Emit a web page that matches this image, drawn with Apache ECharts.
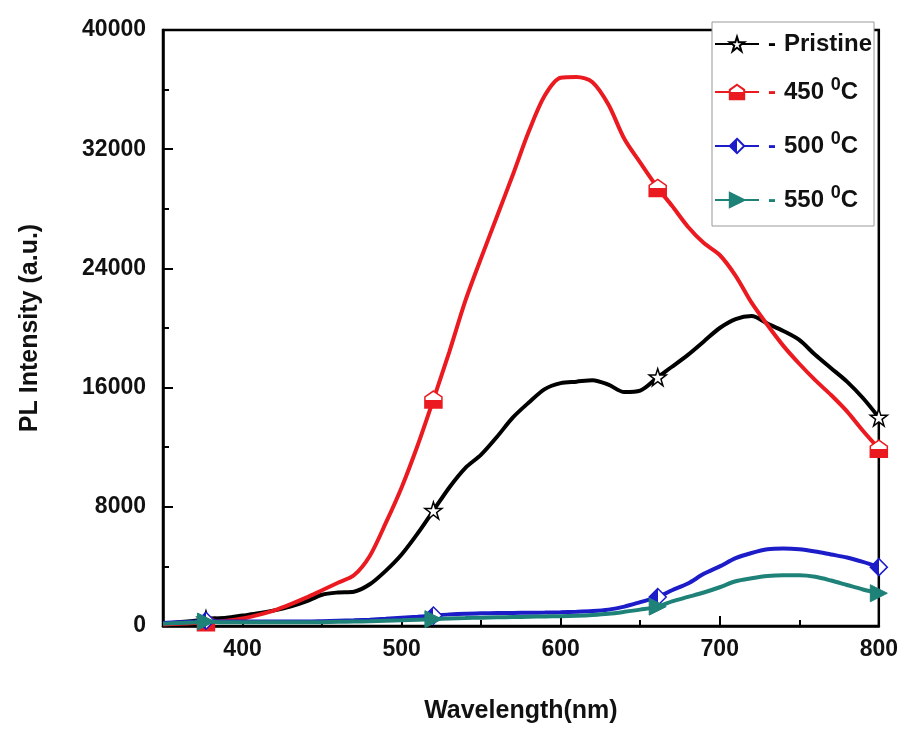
<!DOCTYPE html>
<html>
<head>
<meta charset="utf-8">
<script src="https://cdn.jsdelivr.net/npm/echarts@6/dist/echarts.min.js"></script>
<style>html,body{margin:0;padding:0;background:#fff;}#c{width:901px;height:729px;}</style>
</head>
<body>
<div id="c"></div>
<script>
const wavelength = [350,360,370,377,390,400,410,420,430,440,450,460,470,480,490,500,510,520,530,540,550,560,570,580,590,600,610,620,630,640,650,661,670,680,690,700,710,720,730,740,750,760,770,780,790,800];
const pristine = [150,250,350,450,550,700,850,1050,1300,1650,2100,2250,2300,2800,3700,4800,6200,7750,9300,10600,11500,12700,14000,15000,15900,16300,16400,16500,16200,15700,15800,16700,17400,18200,19100,20000,20600,20800,20300,19800,19200,18200,17300,16400,15300,14000];
const t450 = [100,150,200,250,350,500,750,1050,1450,1900,2400,2900,3400,4700,6900,9300,12100,15200,18400,21800,24700,27500,30300,33200,35600,36800,36850,36500,35000,32700,31100,29400,28200,26800,25700,24900,23500,21700,20200,18800,17600,16500,15500,14400,13100,11900];
const t500 = [200,250,300,350,300,300,300,300,300,300,320,350,380,420,480,550,620,700,780,830,850,870,880,890,900,920,950,1000,1100,1300,1600,1950,2400,2850,3500,4000,4550,4900,5150,5200,5150,5000,4800,4600,4300,3950];
const t550 = [150,200,250,300,250,250,250,250,250,250,260,280,300,320,350,380,420,460,500,530,560,580,600,620,640,660,690,740,820,950,1100,1300,1650,1950,2250,2600,3000,3200,3350,3400,3400,3300,3050,2750,2450,2200];
const markerWl = [377,520,661,800];
const seriesNames = ['Pristine','450','500','550'];
const yTicks = {min:0, max:40000, interval:8000};
const xRange = {min:350, max:800};

const colors = ['#000000','#ea1a20','#1c1cc8','#1f8279'];
const pair = arr => wavelength.map((w,i)=>[w,arr[i]]);
const symSize = v => markerWl.includes(v[0]) ? 17 : 0;
const starPath = 'path://M50,0 L61.8,35.5 L100,35.5 L69.1,57.5 L80.9,93.5 L50,71.5 L19.1,93.5 L30.9,57.5 L0,35.5 L38.2,35.5 Z';
const housePath = 'path://M50,0 L100,35 L100,100 L0,100 L0,35 Z';

const font = '"Liberation Sans", Arial, sans-serif';
const rich = {
  t: {fontSize: 24, fontWeight: 'bold', fontFamily: font, color: '#111', lineHeight: 32},
  s: {fontSize: 18, fontWeight: 'bold', fontFamily: font, color: '#111', verticalAlign: 'top', lineHeight: 32, padding: [0,0,16,0]},
  d0: {fontSize: 24, fontWeight: 'bold', color: colors[0], lineHeight: 32, padding:[0,8,0,4]},
  d1: {fontSize: 24, fontWeight: 'bold', color: colors[1], lineHeight: 32, padding:[0,8,0,4]},
  d2: {fontSize: 24, fontWeight: 'bold', color: colors[2], lineHeight: 32, padding:[0,8,0,4]},
  d3: {fontSize: 24, fontWeight: 'bold', color: colors[3], lineHeight: 32, padding:[0,8,0,4]}
};

function mk(name, idx, data, symbol, itemStyle, extra) {
  return Object.assign({
    name: name, type: 'line', data: pair(data),
    showSymbol: true, symbol: symbol, symbolSize: symSize,
    lineStyle: {color: colors[idx], width: 4},
    itemStyle: itemStyle,
    smooth: 0.3, animation: false, z: 2 + idx
  }, extra || {});
}

const chart = echarts.init(document.getElementById('c'), null, {renderer: 'canvas'});
chart.setOption({
  backgroundColor: '#fff',
  animation: false,
  grid: {left: 163, right: 22, top: 30, bottom: 100, show: true, borderColor: '#000', borderWidth: 2.5, backgroundColor: 'transparent'},
  xAxis: {
    type: 'value', min: xRange.min, max: xRange.max, splitNumber: 5,
    name: 'Wavelength(nm)', nameLocation: 'middle', nameGap: 73,
    nameTextStyle: {fontSize: 25, fontWeight: 'bold', fontFamily: font, color: '#111'},
    axisLine: {show: true, lineStyle: {color: '#000', width: 2.5}},
    axisTick: {show: true, inside: true, length: 10, lineStyle: {color: '#000', width: 2}},
    minorTick: {show: true, splitNumber: 2, length: 6, lineStyle: {color: '#000', width: 2}},
    axisLabel: {showMinLabel: false, margin: 12, fontSize: 23, fontWeight: 'bold', fontFamily: font, color: '#111'},
    splitLine: {show: false}
  },
  yAxis: {
    type: 'value', min: yTicks.min, max: yTicks.max, interval: yTicks.interval,
    name: 'PL Intensity (a.u.)', nameLocation: 'middle', nameGap: 120, nameRotate: 90,
    nameTextStyle: {fontSize: 25, fontWeight: 'bold', fontFamily: font, color: '#111'},
    axisLine: {show: true, lineStyle: {color: '#000', width: 2.5}},
    axisTick: {show: true, inside: true, length: 10, lineStyle: {color: '#000', width: 2}},
    minorTick: {show: true, splitNumber: 2, length: 6, lineStyle: {color: '#000', width: 2}},
    axisLabel: {margin: 17, fontSize: 23, fontWeight: 'bold', fontFamily: font, color: '#111', formatter: v => String(v)},
    splitLine: {show: false}
  },
  legend: {
    orient: 'vertical', left: 712, top: 22, z: 10,
    backgroundColor: '#fff', borderColor: '#999', borderWidth: 1,
    padding: [10, 2, 8, 2], itemGap: 20, itemWidth: 44, itemHeight: 18,
    data: seriesNames,
    formatter: function (name) {
      const i = seriesNames.indexOf(name);
      if (i === 0) return '{d0|-}{t|' + name + '}';
      return '{d' + i + '|-}{t|' + name + ' }{s|0}{t|C}';
    },
    textStyle: {rich: rich}
  },
  series: [
    mk('Pristine', 0, pristine, starPath, {color: '#fff', borderColor: '#000', borderWidth: 1.5}),
    mk('450', 1, t450, housePath, {
      color: {type: 'linear', x: 0, y: 0, x2: 0, y2: 1, colorStops: [
        {offset: 0, color: '#fff'}, {offset: 0.5, color: '#fff'}, {offset: 0.5, color: colors[1]}, {offset: 1, color: colors[1]}]},
      borderColor: colors[1], borderWidth: 1.5}),
    mk('500', 2, t500, 'diamond', {
      color: {type: 'linear', x: 0, y: 0, x2: 1, y2: 0, colorStops: [
        {offset: 0, color: colors[2]}, {offset: 0.5, color: colors[2]}, {offset: 0.5, color: '#fff'}, {offset: 1, color: '#fff'}]},
      borderColor: colors[2], borderWidth: 1.5}),
    mk('550', 3, t550, 'triangle', {color: colors[3], borderColor: colors[3], borderWidth: 1}, {symbolRotate: -90})
  ]
});
</script>
</body>
</html>
